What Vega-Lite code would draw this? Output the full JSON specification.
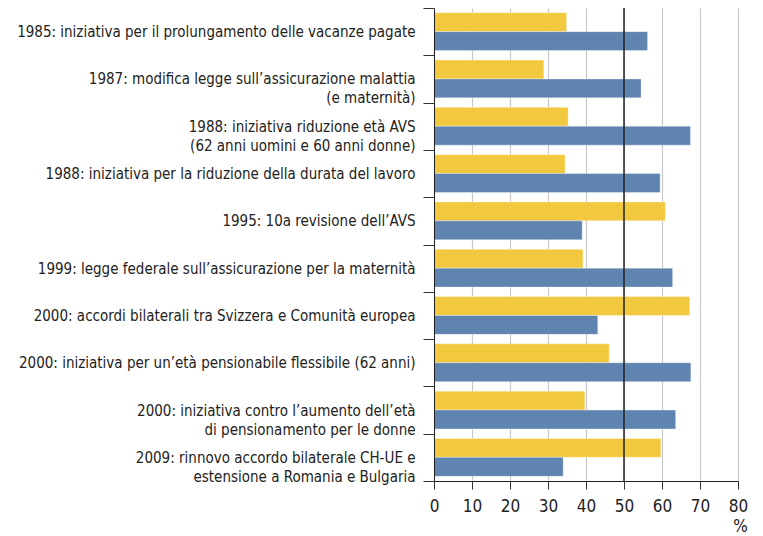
{
  "$schema": "https://vega.github.io/schema/vega-lite/v6.json",
  "width": 304,
  "height": 473,
  "autosize": {"type": "none"},
  "padding": {"left": 434, "top": 8, "right": 25, "bottom": 55},
  "background": "#ffffff",
  "config": {"view": {"stroke": null}, "font": "DejaVu Sans Condensed"},
  "data": {
    "values": [
      {"evento": "1985: iniziativa per il prolungamento delle vacanze pagate", "serie": "s1", "valore": 34.9},
      {"evento": "1985: iniziativa per il prolungamento delle vacanze pagate", "serie": "s2", "valore": 56.2},
      {"evento": "1987: modifica legge sull’assicurazione malattia |(e maternità)", "serie": "s1", "valore": 28.9},
      {"evento": "1987: modifica legge sull’assicurazione malattia |(e maternità)", "serie": "s2", "valore": 54.5},
      {"evento": "1988: iniziativa riduzione età AVS |(62 anni uomini e 60 anni donne)", "serie": "s1", "valore": 35.3},
      {"evento": "1988: iniziativa riduzione età AVS |(62 anni uomini e 60 anni donne)", "serie": "s2", "valore": 67.5},
      {"evento": "1988: iniziativa per la riduzione della durata del lavoro", "serie": "s1", "valore": 34.5},
      {"evento": "1988: iniziativa per la riduzione della durata del lavoro", "serie": "s2", "valore": 59.5},
      {"evento": "1995: 10a revisione dell’AVS", "serie": "s1", "valore": 60.9},
      {"evento": "1995: 10a revisione dell’AVS", "serie": "s2", "valore": 39.0},
      {"evento": "1999: legge federale sull’assicurazione per la maternità", "serie": "s1", "valore": 39.2},
      {"evento": "1999: legge federale sull’assicurazione per la maternità", "serie": "s2", "valore": 62.8},
      {"evento": "2000: accordi bilaterali tra Svizzera e Comunità europea", "serie": "s1", "valore": 67.3},
      {"evento": "2000: accordi bilaterali tra Svizzera e Comunità europea", "serie": "s2", "valore": 43.1},
      {"evento": "2000: iniziativa per un’età pensionabile flessibile (62 anni)", "serie": "s1", "valore": 46.1},
      {"evento": "2000: iniziativa per un’età pensionabile flessibile (62 anni)", "serie": "s2", "valore": 67.6},
      {"evento": "2000: iniziativa contro l’aumento dell’età |di pensionamento per le donne", "serie": "s1", "valore": 39.7},
      {"evento": "2000: iniziativa contro l’aumento dell’età |di pensionamento per le donne", "serie": "s2", "valore": 63.6},
      {"evento": "2009: rinnovo accordo bilaterale CH-UE e|estensione a Romania e Bulgaria", "serie": "s1", "valore": 59.7},
      {"evento": "2009: rinnovo accordo bilaterale CH-UE e|estensione a Romania e Bulgaria", "serie": "s2", "valore": 34.0}
    ]
  },
  "encoding": {
    "x": {
      "field": "valore",
      "type": "quantitative",
      "scale": {"domain": [0, 80], "nice": false},
      "axis": {
        "title": "%",
        "titleFont": "DejaVu Sans Condensed",
        "titleFontSize": 17,
        "titleFontWeight": "normal",
        "titleColor": "#222222",
        "titleAnchor": "end",
        "titleAlign": "center",
        "titleBaseline": "alphabetic",
        "titleX": 306,
        "titleY": 50,
        "values": [0, 10, 20, 30, 40, 50, 60, 70, 80],
        "labelOverlap": false,
        "labelFlush": false,
        "labelFont": "DejaVu Sans Condensed",
        "labelFontSize": 17,
        "labelColor": "#222222",
        "labelPadding": 9,
        "tickSize": 8,
        "tickColor": "#333333",
        "domainColor": "#222222",
        "grid": true,
        "gridColor": "#c8c8c8",
        "gridWidth": 1.2
      }
    }
  },
  "layer": [
    {
      "mark": {"type": "bar", "stroke": "#ffffff", "strokeOpacity": 0.35, "strokeWidth": 1},
      "encoding": {
        "y": {
          "field": "evento",
          "type": "nominal",
          "sort": null,
          "scale": {"paddingInner": 0, "paddingOuter": 0},
          "axis": {
            "title": null,
            "tickBand": "extent",
            "labelExpr": "split(datum.label, '|')",
            "labelFont": "DejaVu Sans Condensed",
            "labelFontSize": 15,
            "labelColor": "#222222",
            "labelPadding": 8,
            "labelLineHeight": 19,
            "labelLimit": 0,
            "tickSize": 11,
            "tickColor": "#333333",
            "domainColor": "#222222",
            "grid": false,
            "zindex": 1
          }
        },
        "yOffset": {
          "field": "serie",
          "type": "nominal",
          "sort": ["s1", "s2"],
          "scale": {"paddingOuter": 0.25, "paddingInner": 0}
        },
        "color": {
          "field": "serie",
          "type": "nominal",
          "scale": {"domain": ["s1", "s2"], "range": ["#F2C83F", "#5F84B0"]},
          "legend": null
        }
      }
    },
    {
      "data": {"values": [{"valore": 50}]},
      "mark": {"type": "rule", "color": "#222222", "strokeWidth": 1.5},
      "encoding": {}
    }
  ]
}
